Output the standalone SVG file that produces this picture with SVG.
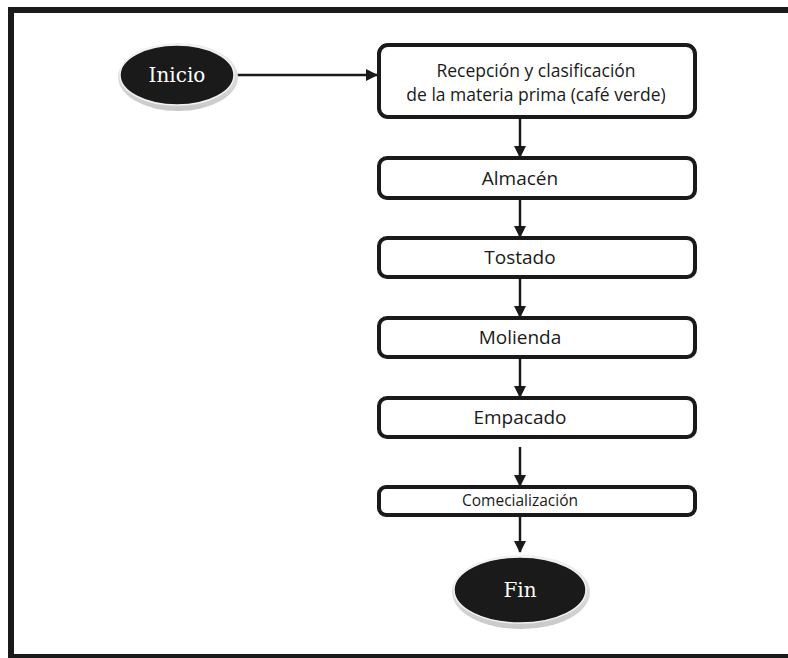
<svg xmlns="http://www.w3.org/2000/svg" width="788" height="658" viewBox="0 0 788 658">
<style>
.box{fill:#fff;stroke:#1a1a1a;stroke-width:4}
.bt{font-family:"Open Sans","Noto Sans",sans-serif;font-size:19px;fill:#1a1a1a;text-anchor:middle}
.bt2{font-size:17.5px}
.et{font-family:"DejaVu Serif","Liberation Serif",serif;font-size:20px;fill:#fff;text-anchor:middle}
.core{fill:#1a1a1a;stroke:#f2f2f2;stroke-width:1.5}
.c{stroke:#1a1a1a;stroke-width:2.5;fill:none}
.frame{stroke:#1a1a1a;stroke-width:6;fill:none}
</style>
<defs>
<marker id="ah" markerWidth="12" markerHeight="12" refX="11" refY="6" orient="auto" markerUnits="userSpaceOnUse"><path d="M0,0 L12,6 L0,12 Z" fill="#1a1a1a"/></marker>
<linearGradient id="rg" x1="0" y1="0" x2="0" y2="1"><stop offset="0" stop-color="#f0f0f0"/><stop offset="1" stop-color="#c8c8c8"/></linearGradient>
</defs>
<rect x="0" y="0" width="788" height="658" fill="#fff"/>
<path class="frame" d="M11,7 V658 M8,10 H788 M8,657 H788"/>
<g id="connectors">
<path class="c" d="M237,75 H377" marker-end="url(#ah)"/>
<path class="c" d="M520,117 V157" marker-end="url(#ah)"/>
<path class="c" d="M520,198 V237" marker-end="url(#ah)"/>
<path class="c" d="M520,278 V317" marker-end="url(#ah)"/>
<path class="c" d="M520,357 V397" marker-end="url(#ah)"/>
<path class="c" d="M520,447 V486" marker-end="url(#ah)"/>
<path class="c" d="M520,515 V552" marker-end="url(#ah)"/>
</g>
<g id="inicio">
<ellipse cx="178" cy="77" rx="60" ry="34" fill="url(#rg)"/>
<ellipse class="core" cx="177" cy="75" rx="57" ry="30"/>
<text class="et" x="177" y="82">Inicio</text>
</g>
<g id="recepcion">
<rect class="box" x="379" y="45" width="316" height="72" rx="9"/>
<text class="bt bt2" x="536" y="77">Recepción y clasificación</text>
<text class="bt bt2" x="536" y="101">de la materia prima (café verde)</text>
</g>
<g id="almacen">
<rect class="box" x="379" y="158" width="316" height="40" rx="8"/>
<text class="bt" x="520" y="185">Almacén</text>
</g>
<g id="tostado">
<rect class="box" x="379" y="238" width="316" height="39" rx="8"/>
<text class="bt" x="520" y="264">Tostado</text>
</g>
<g id="molienda">
<rect class="box" x="379" y="318" width="316" height="39" rx="8"/>
<text class="bt" x="520" y="344">Molienda</text>
</g>
<g id="empacado">
<rect class="box" x="379" y="398" width="316" height="39" rx="8"/>
<text class="bt" x="520" y="424">Empacado</text>
</g>
<g id="comercializacion">
<rect class="box" x="379" y="487" width="316" height="28" rx="7"/>
<text class="bt" x="520" y="506" style="font-size:15.5px">Comecialización</text>
</g>
<g id="fin">
<ellipse cx="521" cy="592" rx="69" ry="37" fill="url(#rg)"/>
<ellipse class="core" cx="520" cy="590" rx="66" ry="33"/>
<text class="et" x="520" y="597">Fin</text>
</g>
</svg>
